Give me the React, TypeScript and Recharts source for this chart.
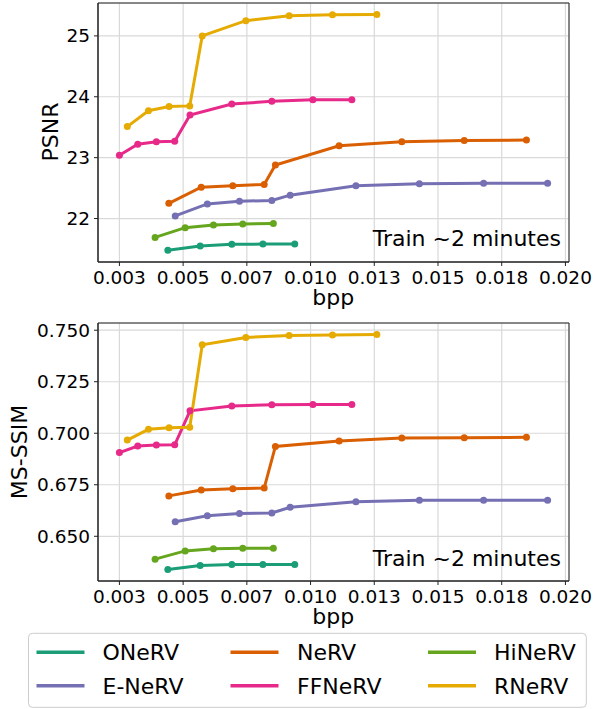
import { LineChart, Line, XAxis, YAxis, CartesianGrid, ReferenceArea } from 'recharts';

// bpp vs quality, "Train ~2 minutes" setting
const onervBpp = [0.0044, 0.00567, 0.00691, 0.00813, 0.00938];
const onervPsnr = [21.48, 21.55, 21.577, 21.58, 21.58];
const onervSsim = [0.6339, 0.6358, 0.6363, 0.6363, 0.6363];

const enervBpp = [0.00469, 0.00595, 0.00721, 0.00848, 0.0092, 0.01178, 0.01427, 0.01679, 0.0193];
const enervPsnr = [22.043, 22.24, 22.285, 22.296, 22.384, 22.537, 22.57, 22.58, 22.58];
const enervSsim = [0.6571, 0.66, 0.661, 0.6613, 0.6641, 0.6668, 0.6675, 0.6675, 0.6675];

const nervBpp = [0.00444, 0.00571, 0.00695, 0.00818, 0.00862, 0.01112, 0.01358, 0.01603, 0.01847];
const nervPsnr = [22.25, 22.515, 22.54, 22.56, 22.88, 23.195, 23.26, 23.28, 23.29];
const nervSsim = [0.6696, 0.6725, 0.6731, 0.6734, 0.6936, 0.6962, 0.6977, 0.6978, 0.698];

const ffnervBpp = [0.0025, 0.00322, 0.00395, 0.00467, 0.00527, 0.00691, 0.00848, 0.01009, 0.01162];
const ffnervPsnr = [23.04, 23.22, 23.26, 23.27, 23.7, 23.88, 23.925, 23.95, 23.95];
const ffnervSsim = [0.6906, 0.6938, 0.6943, 0.6944, 0.7109, 0.7132, 0.7138, 0.714, 0.714];

const hinervBpp = [0.0039, 0.00508, 0.00619, 0.00734, 0.00854];
const hinervPsnr = [21.69, 21.85, 21.895, 21.91, 21.92];
const hinervSsim = [0.6389, 0.6429, 0.6439, 0.6442, 0.6442];

const rnervBpp = [0.00281, 0.00364, 0.00445, 0.00526, 0.00575, 0.00746, 0.00916, 0.01086, 0.0126];
const rnervPsnr = [23.51, 23.77, 23.84, 23.85, 25.0, 25.25, 25.33, 25.345, 25.35];
const rnervSsim = [0.6967, 0.7019, 0.7027, 0.7029, 0.7429, 0.7465, 0.7474, 0.7477, 0.7479];

const seriesNames = ['ONeRV', 'E-NeRV', 'NeRV', 'FFNeRV', 'HiNeRV', 'RNeRV'];
const seriesColors = ['#1b9e77', '#7570b3', '#d95f02', '#e7298a', '#66a61e', '#e6ab02'];

const xTicks = [0.0025, 0.005, 0.0075, 0.01, 0.0125, 0.015, 0.0175, 0.02];
const xTickLabels = ['0.003', '0.005', '0.007', '0.010', '0.013', '0.015', '0.018', '0.020'];
const psnrTicks = [22, 23, 24, 25];
const psnrTickLabels = ['22', '23', '24', '25'];
const ssimTicks = [0.65, 0.675, 0.7, 0.725, 0.75];
const ssimTickLabels = ['0.650', '0.675', '0.700', '0.725', '0.750'];

const xDomain = [0.00166, 0.02014];
const psnrDomain = [21.286, 25.54];
const ssimDomain = [0.6283, 0.7535];

const FONT = '"DejaVu Sans", sans-serif';

function build(bpp: number[], psnr: number[], ssim: number[]) {
  return bpp.map((b, i) => ({ bpp: b, psnr: psnr[i], ssim: ssim[i] }));
}

const series = [
  build(onervBpp, onervPsnr, onervSsim),
  build(enervBpp, enervPsnr, enervSsim),
  build(nervBpp, nervPsnr, nervSsim),
  build(ffnervBpp, ffnervPsnr, ffnervSsim),
  build(hinervBpp, hinervPsnr, hinervSsim),
  build(rnervBpp, rnervPsnr, rnervSsim),
].map((data, i) => ({ name: seriesNames[i], color: seriesColors[i], data }));

interface PanelProps {
  top: number;
  height: number;
  yKey: string;
  yDomain: number[];
  yTicks: number[];
  yTickLabels: string[];
}

function Panel({ top, height, yKey, yDomain, yTicks, yTickLabels }: PanelProps) {
  return (
    <div style={{ position: 'absolute', left: 0, top }}>
      <LineChart width={595} height={height} margin={{ top: 3, right: 26, bottom: 0, left: 0 }}>
        <CartesianGrid stroke="#d9d9d9" strokeWidth={1.2} />
        <XAxis
          type="number"
          dataKey="bpp"
          domain={xDomain}
          ticks={xTicks}
          interval={0}
          allowDataOverflow
          tickFormatter={(v, i) => xTickLabels[i]}
          height={48}
          tickSize={4}
          tickMargin={4.5}
          stroke="#222"
          tick={{ fill: '#000', fontSize: 18.5 }}
        />
        <YAxis
          type="number"
          domain={yDomain}
          ticks={yTicks}
          interval={0}
          allowDataOverflow
          tickFormatter={(v, i) => yTickLabels[i]}
          width={98}
          tickSize={4}
          tickMargin={4}
          stroke="#222"
          tick={{ fill: '#000', fontSize: 18.5 }}
        />
        <ReferenceArea
          x1={xDomain[0]}
          x2={xDomain[1]}
          y1={yDomain[0]}
          y2={yDomain[1]}
          fill="none"
          fillOpacity={0}
          stroke="#222"
          strokeWidth={1}
          ifOverflow="visible"
        />
        {series.map((s) => (
          <Line
            key={s.name}
            data={s.data}
            dataKey={yKey}
            name={s.name}
            type="linear"
            stroke={s.color}
            strokeWidth={3}
            dot={{ r: 3.5, fill: s.color, stroke: s.color, strokeWidth: 0 }}
            activeDot={false}
            isAnimationActive={false}
          />
        ))}
      </LineChart>
    </div>
  );
}

// legend: 3 columns, filled column by column
const legendCols = [
  { lineX: 36.5, textX: 102.5 },
  { lineX: 230.5, textX: 297 },
  { lineX: 428, textX: 494 },
];
const legendRows = [652.3, 685.7];

export default function App() {
  return (
    <div style={{ position: 'absolute', left: 0, top: 0, width: 595, height: 709, background: '#fff', fontFamily: FONT }}>
      <Panel top={0} height={310} yKey="psnr" yDomain={psnrDomain} yTicks={psnrTicks} yTickLabels={psnrTickLabels} />
      <Panel top={320} height={309} yKey="ssim" yDomain={ssimDomain} yTicks={ssimTicks} yTickLabels={ssimTickLabels} />
      <svg
        width={595}
        height={709}
        style={{ position: 'absolute', left: 0, top: 0, pointerEvents: 'none' }}
        fontFamily={FONT}
      >
        {/* axis labels */}
        <text x={58.3} y={132} textAnchor="middle" fontSize={22} fill="#000" transform="rotate(-90 58.3 132)">
          PSNR
        </text>
        <text x={27} y={452} textAnchor="middle" fontSize={22} fill="#000" transform="rotate(-90 27 452)">
          MS-SSIM
        </text>
        <text x={333.3} y={304.5} textAnchor="middle" fontSize={22} fill="#000">bpp</text>
        <text x={333.3} y={623.5} textAnchor="middle" fontSize={22} fill="#000">bpp</text>

        {/* annotations */}
        <text x={561} y={246} textAnchor="end" fontSize={22} fill="#000">Train ~2 minutes</text>
        <text x={561} y={565.5} textAnchor="end" fontSize={22} fill="#000">Train ~2 minutes</text>

        {/* legend */}
        <rect x={28.5} y={633.3} width={557.8} height={74} rx={4} fill="#fff" stroke="#cccccc" strokeWidth={1} />
        {series.map((s, i) => {
          const col = legendCols[Math.floor(i / 2)];
          const y = legendRows[i % 2];
          return (
            <g key={s.name}>
              <line x1={col.lineX} x2={col.lineX + 48} y1={y} y2={y} stroke={s.color} strokeWidth={3.5} />
              <text x={col.textX} y={y + 8} fontSize={22} fill="#000">{s.name}</text>
            </g>
          );
        })}
      </svg>
    </div>
  );
}
